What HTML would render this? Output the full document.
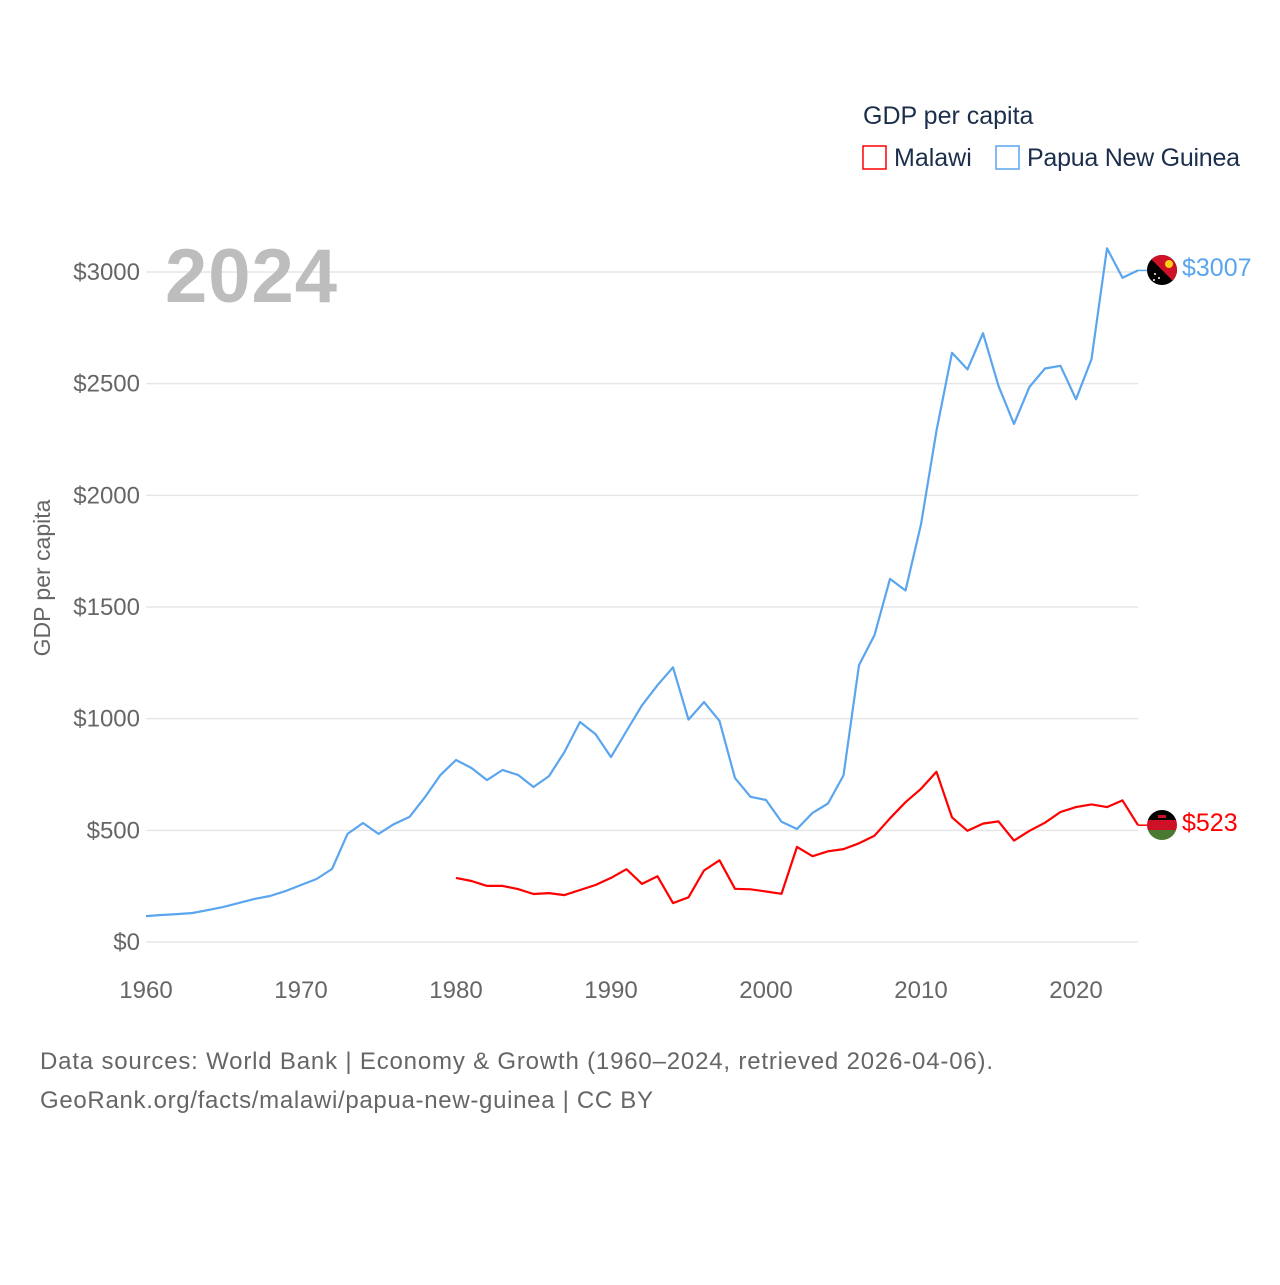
<!DOCTYPE html>
<html><head><meta charset="utf-8"><style>
body{margin:0;background:#fff;width:1280px;height:1280px;overflow:hidden;font-family:"Liberation Sans",sans-serif}
</style></head><body>
<svg id="chart" width="1280" height="1280" xmlns="http://www.w3.org/2000/svg" font-family="Liberation Sans, sans-serif">
<g id="grid"></g>
<g id="yticks"></g>
<g id="xticks"></g>
<text x="165" y="302" font-size="76" font-weight="bold" fill="#bdbdbd" textLength="172">2024</text>
<text transform="translate(50,578) rotate(-90)" text-anchor="middle" font-size="23" fill="#666">GDP per capita</text>
<g id="series"></g>
<g>
<text x="863" y="124" font-size="25" fill="#1b2e4b">GDP per capita</text>
<rect x="863" y="146" width="23" height="23" fill="none" stroke="#ff0000" stroke-width="1.5"/>
<text x="894" y="166" font-size="25" fill="#1b2e4b">Malawi</text>
<rect x="996" y="146" width="23" height="23" fill="none" stroke="#5aa5ee" stroke-width="1.5"/>
<text x="1027" y="166" font-size="25" fill="#1b2e4b" textLength="213">Papua New Guinea</text>
</g>
<g>
<clipPath id="c1"><circle cx="1162" cy="270" r="15"/></clipPath>
<g clip-path="url(#c1)"><rect x="1147" y="255" width="30" height="30" fill="#000"/><polygon points="1147,255 1177,255 1177,285" fill="#ce1126"/><circle cx="1169" cy="264" r="4" fill="#fcd116"/><circle cx="1155" cy="274" r="1" fill="#fff"/><circle cx="1159" cy="278" r="1" fill="#fff"/><circle cx="1154" cy="280" r="1" fill="#fff"/></g>
</g>
<g>
<clipPath id="c2"><circle cx="1162" cy="825" r="15"/></clipPath>
<g clip-path="url(#c2)"><rect x="1147" y="810" width="30" height="10" fill="#000"/><rect x="1147" y="820" width="30" height="10" fill="#ce1126"/><rect x="1147" y="830" width="30" height="10" fill="#4a7a32"/><rect x="1158" y="815" width="8" height="3" fill="#ce1126"/></g>
</g>
<text id="lbl-png" x="1182" y="276" font-size="25" fill="#5aa5ee"></text>
<text id="lbl-mw" x="1182" y="831" font-size="25" fill="#ff0000"></text>
<text x="40" y="1069" font-size="24" fill="#666" textLength="953">Data sources: World Bank | Economy &amp; Growth (1960–2024, retrieved 2026-04-06).</text>
<text x="40" y="1108" font-size="24" fill="#666" textLength="613">GeoRank.org/facts/malawi/papua-new-guinea | CC BY</text>
</svg>
<script>
const pngYears = [];for(let y=1960;y<=2024;y++)pngYears.push(y);
const pngValues = [116,121,125,130,143,157,175,193,206,228,255,282,327,484,533,484,528,560,649,748,815,779,725,770,748,694,743,851,985,931,828,945,1060,1150,1230,996,1074,990,734,650,636,538,506,578,620,746,1240,1374,1626,1574,1870,2290,2638,2564,2726,2490,2320,2486,2568,2580,2430,2610,3106,2974,3007];
const mwYears = [];for(let y=1980;y<=2024;y++)mwYears.push(y);
const mwValues = [287,273,251,251,237,215,219,210,233,255,287,326,260,294,174,200,320,366,238,236,226,216,426,384,406,416,442,476,554,626,686,762,558,498,530,540,454,498,534,582,604,616,604,634,523];
const yTicks = [0,500,1000,1500,2000,2500,3000];
const xTicks = [1960,1970,1980,1990,2000,2010,2020];
const X = yr => 146 + (yr-1960)*15.5;
const Y = v => 942 - v*670/3000;
const NS="http://www.w3.org/2000/svg";
function mk(tag,attrs,parent){const e=document.createElementNS(NS,tag);for(const k in attrs)e.setAttribute(k,attrs[k]);parent.appendChild(e);return e;}
const grid=document.getElementById('grid'),yt=document.getElementById('yticks'),xt=document.getElementById('xticks'),ser=document.getElementById('series');
yTicks.forEach(v=>{
 const l=mk('line',{x1:146,x2:1138,y1:Y(v),y2:Y(v),stroke:'#e6e6e6','stroke-width':1.5},grid);
 
 
 const t=mk('text',{x:140,y:Y(v)+8,'text-anchor':'end','font-size':24,fill:'#666'},yt);
 t.textContent='$'+v;
 
 
});
xTicks.forEach(v=>{
 const t=mk('text',{x:X(v),y:998,'text-anchor':'middle','font-size':24,fill:'#666'},xt);
 t.textContent=v;
 
 
});
function line(years,vals,color,name){
 const d=years.map((y,i)=>(i?'L':'M')+X(y).toFixed(1)+','+Y(vals[i]).toFixed(1)).join(' ');
 const p=mk('path',{d:d,fill:'none',stroke:color,'stroke-width':2.2,'stroke-linejoin':'round'},ser);
 
 
 const last=vals[vals.length-1];
 const c=mk('line',{x1:X(years[years.length-1]),x2:1147,y1:Y(last),y2:Y(last),stroke:color,'stroke-width':1.5},ser);
 
 
}
line(pngYears,pngValues,'#5aa5ee','png-line');
line(mwYears,mwValues,'#ff0000','malawi-line');
document.getElementById('lbl-png').textContent='$'+pngValues[pngValues.length-1];
document.getElementById('lbl-mw').textContent='$'+mwValues[mwValues.length-1];
</script>
</body></html>
